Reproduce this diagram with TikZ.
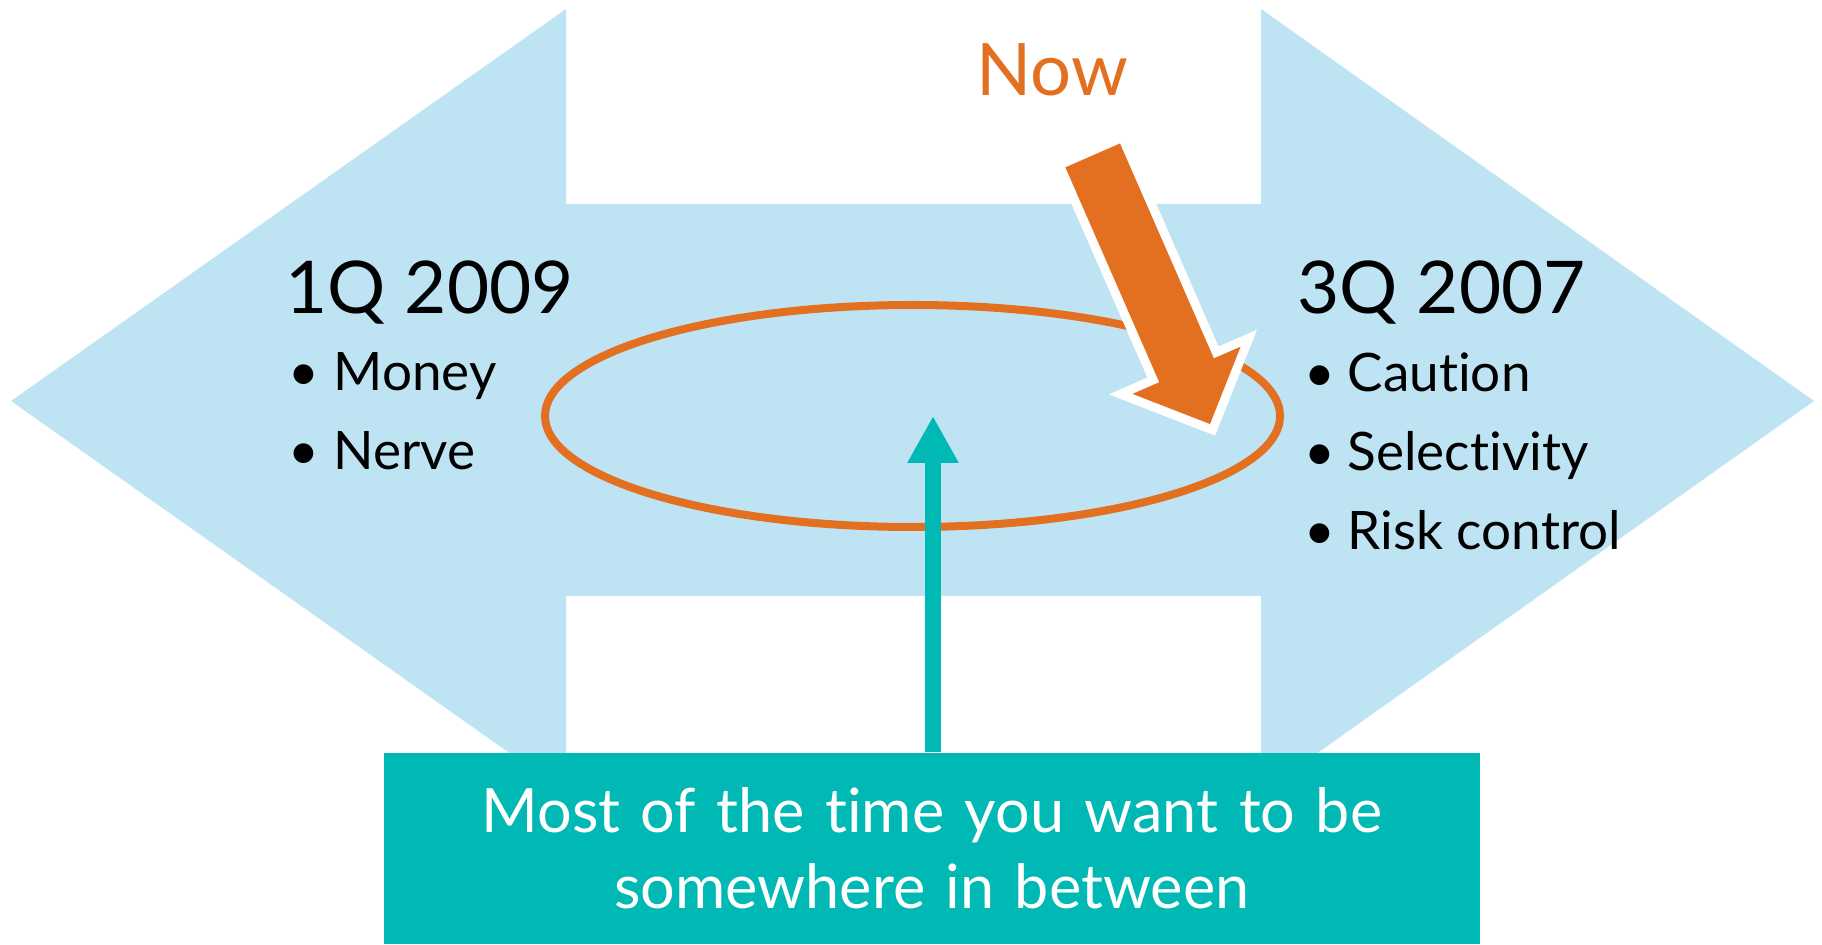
\documentclass[tikz,border=0pt]{standalone}
\usepackage{fontspec}
\setmainfont{Lato}[Ligatures={NoCommon,NoRare,NoContextual}]
\usepackage{tikz}
\usetikzlibrary{shapes.geometric,arrows.meta,positioning,calc}
\definecolor{spanblue}{RGB}{190,228,243}
\definecolor{nowor}{RGB}{227,112,32}
\definecolor{midteal}{RGB}{0,184,180}

\begin{document}
\begin{tikzpicture}[
head/.style={inner sep=0pt, anchor=base west, font=\fontsize{20.7}{25}\selectfont},
item/.style={inner sep=0pt, anchor=base west, font=\fontsize{15.1}{18}\selectfont},
zone/.style={ellipse, draw=nowor, line width=0.08cm, minimum width=7.35cm, minimum height=2.22cm},
msg/.style={fill=midteal, text=white, inner sep=0pt, minimum width=10.965cm, minimum height=1.91cm,
text width=10.9cm, align=center, font=\fontsize{17.4}{21.6}\selectfont},
uparrow/.style={-{Triangle[width=0.48cm, length=0.47cm]}, line width=0.16cm, draw=midteal}
]
\useasboundingbox (0,0) rectangle (18.22,9.44);

% wide double arrow
\fill[spanblue] (0.11,5.43) -- (5.66,9.35) -- (5.66,7.40) -- (12.61,7.40) -- (12.61,9.35)
  -- (18.14,5.43) -- (12.61,1.51) -- (12.61,3.48) -- (5.66,3.48) -- (5.66,1.51) -- cycle;

\node[zone] (band) at (9.125,5.28) {};

% block arrow from Now
\coordinate (nowtip) at (12.10,5.20);
\begin{scope}[shift={(nowtip)}, rotate=-66.4]
\fill[nowor, preaction={draw=white, line width=0.18cm}]
  (0,0) -- (-0.586,0.59) -- (-0.586,0.298) -- (-2.931,0.298)
  -- (-2.931,-0.298) -- (-0.586,-0.298) -- (-0.586,-0.59) -- cycle;
\end{scope}
\node[font=\fontsize{20.6}{24}\selectfont, text=nowor, inner sep=0pt, anchor=base] (now) at (10.52,8.48) {Now};

\node[head] (past) at (2.85,6.30) {1Q 2009};
\node[item] (p1) at (2.88,5.53) {\makebox[0.45cm][l]{\textbullet}Money};
\node[item] (p2) at (2.88,4.74) {\makebox[0.45cm][l]{\textbullet}Nerve};

\node[head] (peak) at (12.97,6.30) {3Q 2007};
\node[item] (q1) at (13.04,5.52) {\makebox[0.43cm][l]{\textbullet}Caution};
\node[item] (q2) at (13.04,4.73) {\makebox[0.43cm][l]{\textbullet}Selectivity};
\node[item] (q3) at (13.04,3.94) {\makebox[0.43cm][l]{\textbullet}Risk control};

\node[msg] (box) at (9.3175,0.955) {Most of the time you want to be\\somewhere in between};

\coordinate (aim) at (9.33,5.28);
\draw[uparrow] (box.north -| aim) -- (aim);

\end{tikzpicture}
\end{document}
